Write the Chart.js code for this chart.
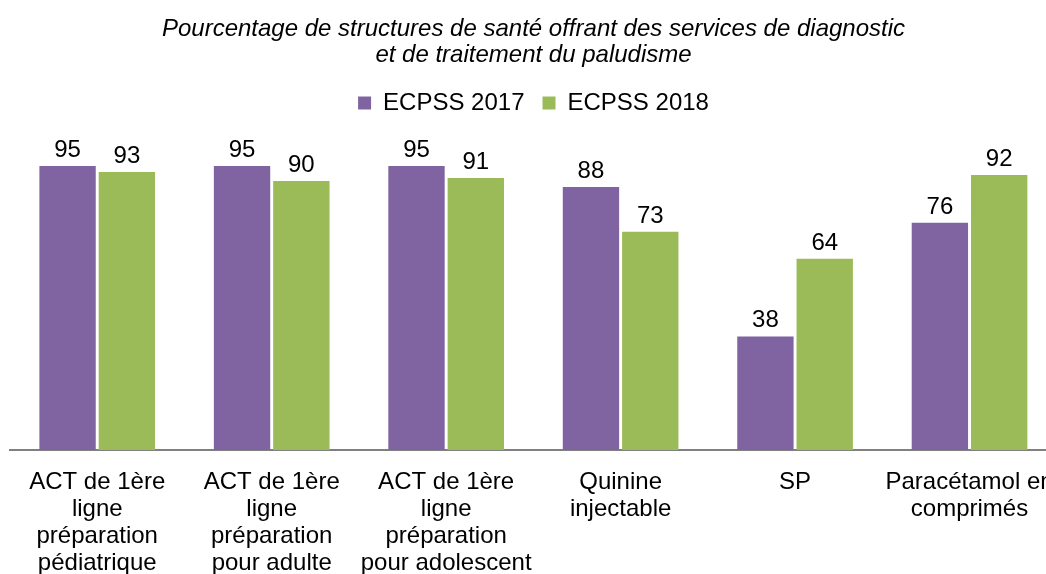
<!DOCTYPE html>
<html>
<head>
<meta charset="utf-8">
<script src="https://cdn.jsdelivr.net/npm/chart.js@4/dist/chart.umd.min.js"></script>
<style>
  html, body { margin: 0; padding: 0; background: #fff; overflow: hidden; }
  #wrap { position: relative; width: 1074px; height: 596px; }
</style>
</head>
<body>
<div id="wrap"><canvas id="malariaChart"></canvas></div>
<script>
(function () {
  "use strict";

  const categories = [
    ['ACT de 1ère', 'ligne', 'préparation', 'pédiatrique'],
    ['ACT de 1ère', 'ligne', 'préparation', 'pour adulte'],
    ['ACT de 1ère', 'ligne', 'préparation', 'pour adolescent'],
    ['Quinine', 'injectable'],
    ['SP'],
    ['Paracétamol en', 'comprimés']
  ];
  const ecpss2017 = [95, 95, 95, 88, 38, 76];
  const ecpss2018 = [93, 90, 91, 73, 64, 92];
  const titleLines = [
    'Pourcentage de structures de santé offrant des services de diagnostic',
    'et de traitement du paludisme'
  ];

  const FONT = "'Liberation Sans', Arial, sans-serif";

  // prints each bar's value just above it
  const valueLabels = {
    id: 'valueLabels',
    afterDatasetsDraw(chart) {
      const ctx = chart.ctx;
      ctx.save();
      ctx.font = '24px ' + FONT;
      ctx.fillStyle = '#000';
      ctx.textAlign = 'center';
      ctx.textBaseline = 'alphabetic';
      chart.data.datasets.forEach((ds, i) => {
        chart.getDatasetMeta(i).data.forEach((bar, j) => {
          ctx.fillText(String(ds.data[j]), bar.x, bar.y - 9);
        });
      });
      ctx.restore();
    }
  };

  // more room between the legend and the bars
  const legendGap = {
    id: 'legendGap',
    beforeInit(chart) {
      const fit = chart.legend.fit;
      chart.legend.fit = function () {
        fit.call(this);
        this.height += 26;
      };
    }
  };

  new Chart(document.getElementById('malariaChart'), {
    type: 'bar',
    data: {
      labels: categories,
      datasets: [
        {
          label: 'ECPSS 2017',
          data: ecpss2017,
          backgroundColor: '#8064A2',
          categoryPercentage: 0.68,
          barPercentage: 0.95
        },
        {
          label: 'ECPSS 2018',
          data: ecpss2018,
          backgroundColor: '#9BBB59',
          categoryPercentage: 0.68,
          barPercentage: 0.95
        }
      ]
    },
    options: {
      responsive: true,
      maintainAspectRatio: false,
      animation: false,
      layout: {
        padding: { left: 10, right: 17, top: 0, bottom: 0 }
      },
      plugins: {
        title: {
          display: true,
          text: titleLines,
          color: '#000',
          font: { family: FONT, size: 24, style: 'italic', weight: 'normal', lineHeight: 26 / 24 },
          padding: { top: 16, bottom: 5 }
        },
        legend: {
          labels: {
            color: '#000',
            boxWidth: 13,
            boxHeight: 13,
            padding: 18,
            font: { family: FONT, size: 24 }
          }
        },
        tooltip: { enabled: false }
      },
      scales: {
        x: {
          grid: { display: false, drawTicks: false },
          border: { display: true, color: '#808080', width: 2 },
          ticks: {
            color: '#000',
            font: { family: FONT, size: 24, lineHeight: 27 / 24 },
            padding: 19,
            maxRotation: 0,
            autoSkip: false
          }
        },
        y: {
          display: false,
          min: 0,
          max: 100
        }
      }
    },
    plugins: [valueLabels, legendGap]
  });
})();
</script>
</body>
</html>
